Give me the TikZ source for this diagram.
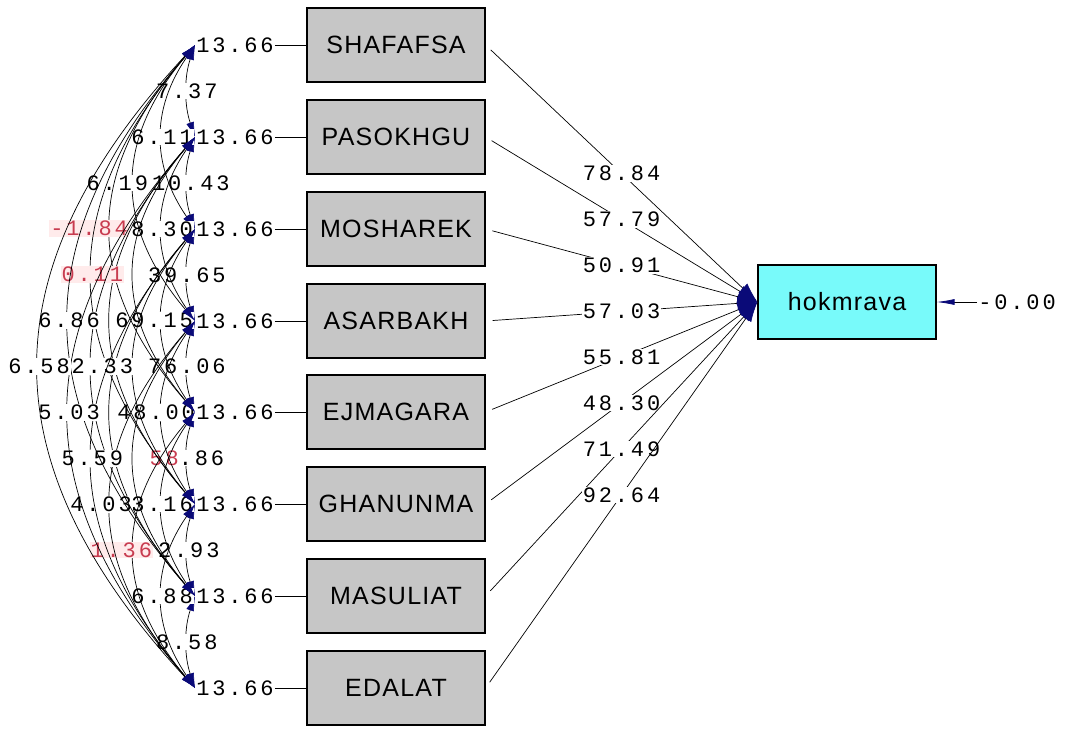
\documentclass[tikz,border=0pt]{standalone}
\usepackage{fontspec}
\setmainfont{Liberation Sans}
\newfontfamily\lisrelmono[LetterSpace=13]{Liberation Mono}
\newfontfamily\boxfont[LetterSpace=5]{Liberation Sans}
\usetikzlibrary{arrows.meta}
\definecolor{boxgray}{RGB}{198,198,198}
\definecolor{latcyan}{RGB}{120,250,250}
\definecolor{headnavy}{RGB}{10,10,120}
\definecolor{tred}{RGB}{200,60,80}
\begin{document}
\begin{tikzpicture}[x=1pt,y=-1pt,
  obs/.style={draw=black, line width=1.2pt, fill=boxgray, minimum width=178pt, minimum height=74pt, inner sep=0pt, font=\boxfont\fontsize{25}{25}\selectfont},
  lat/.style={obs, fill=latcyan},
  num/.style={fill=white, inner sep=1pt, font=\lisrelmono\fontsize{22}{22}\selectfont},
  numred/.style={num, fill=red!8, text=tred},
  cov/.style={line width=0.7pt, {Latex[length=15pt,width=8pt,color=headnavy]}-{Latex[length=15pt,width=8pt,color=headnavy]}},
  loading/.style={line width=0.7pt, -{Latex[length=20pt,width=13pt,color=headnavy]}, shorten <=7pt}]
\useasboundingbox (0,0) rectangle (1067,728);
\node (b1) [obs] at (396,45) {SHAFAFSA};
\node (b2) [obs] at (396,137) {PASOKHGU};
\node (b3) [obs] at (396,229) {MOSHAREK};
\node (b4) [obs] at (396,321) {ASARBAKH};
\node (b5) [obs] at (396,412) {EJMAGARA};
\node (b6) [obs] at (396,504) {GHANUNMA};
\node (b7) [obs] at (396,596) {MASULIAT};
\node (b8) [obs] at (396,688) {EDALAT};
\node (hok) [lat] at (847,302) {hokmrava};
\node (e1) [num] at (235,45) {13.66};
\node (e2) [num] at (235,137) {13.66};
\node (e3) [num] at (235,229) {13.66};
\node (e4) [num] at (235,321) {13.66};
\node (e5) [num] at (235,412) {13.66};
\node (e6) [num] at (235,504) {13.66};
\node (e7) [num] at (235,596) {13.66};
\node (e8) [num] at (235,688) {13.66};
\node (e9) [num] at (1017,302) {-0.00};
\draw [line width=0.8pt] (e1) -- (b1);
\draw [line width=0.8pt] (e2) -- (b2);
\draw [line width=0.8pt] (e3) -- (b3);
\draw [line width=0.8pt] (e4) -- (b4);
\draw [line width=0.8pt] (e5) -- (b5);
\draw [line width=0.8pt] (e6) -- (b6);
\draw [line width=0.8pt] (e7) -- (b7);
\draw [line width=0.8pt] (e8) -- (b8);
\draw [line width=0.8pt, -{Latex[length=18pt,width=6pt,color=headnavy]}] (e9) -- (hok);
\draw [loading] (b1.east) -- (hok.west) node [num, pos=0.5] {78.84};
\draw [loading] (b2.east) -- (hok.west) node [num, pos=0.5] {57.79};
\draw [loading] (b3.east) -- (hok.west) node [num, pos=0.5] {50.91};
\draw [loading] (b4.east) -- (hok.west) node [num, pos=0.5] {57.03};
\draw [loading] (b5.east) -- (hok.west) node [num, pos=0.5] {55.81};
\draw [loading] (b6.east) -- (hok.west) node [num, pos=0.5] {48.30};
\draw [loading] (b7.east) -- (hok.west) node [num, pos=0.5] {71.49};
\draw [loading] (b8.east) -- (hok.west) node [num, pos=0.5] {92.64};
\draw [cov] (e1.west) .. controls +(-11,32) and +(-11,-32) .. (e2.west) node [num, pos=0.5] {7.37};
\draw [cov] (e2.west) .. controls +(-11,32) and +(-11,-32) .. (e3.west) node [num, pos=0.5, xshift=4] {10.43};
\draw [cov] (e3.west) .. controls +(-11,32) and +(-11,-32) .. (e4.west) node [num, pos=0.5] {39.65};
\draw [cov] (e4.west) .. controls +(-11,32) and +(-11,-32) .. (e5.west) node [num, pos=0.5] {76.06};
\draw [cov] (e5.west) .. controls +(-11,32) and +(-11,-32) .. (e6.west) node [num, pos=0.5] {{\color{tred}58}.86};
\draw [cov] (e6.west) .. controls +(-11,32) and +(-11,-32) .. (e7.west) node [num, pos=0.5, xshift=2] {2.93};
\draw [cov] (e7.west) .. controls +(-11,32) and +(-11,-32) .. (e8.west) node [num, pos=0.5] {8.58};
\draw [cov] (e1.west) .. controls +(-44,64) and +(-44,-64) .. (e3.west) node [num, pos=0.5] {6.11};
\draw [cov] (e2.west) .. controls +(-44,64) and +(-44,-64) .. (e4.west) node [num, pos=0.5] {8.30};
\draw [cov] (e3.west) .. controls +(-44,64) and +(-44,-64) .. (e5.west) node [num, pos=0.5, xshift=-8] {69.15};
\draw [cov] (e4.west) .. controls +(-44,64) and +(-44,-64) .. (e6.west) node [num, pos=0.5, xshift=-6] {48.00};
\draw [cov] (e5.west) .. controls +(-44,64) and +(-44,-64) .. (e7.west) node [num, pos=0.5] {3.16};
\draw [cov] (e6.west) .. controls +(-44,64) and +(-44,-64) .. (e8.west) node [num, pos=0.5] {6.88};
\draw [cov] (e1.west) .. controls +(-81,96) and +(-81,-96) .. (e4.west) node [num, pos=0.5, xshift=-17] {6.19};
\draw [cov] (e2.west) .. controls +(-81,96) and +(-81,-96) .. (e5.west);
\draw [cov] (e3.west) .. controls +(-81,96) and +(-81,-96) .. (e6.west);
\draw [cov] (e4.west) .. controls +(-81,96) and +(-81,-96) .. (e7.west);
\draw [cov] (e5.west) .. controls +(-81,96) and +(-81,-96) .. (e8.west) node [numred, pos=0.5, xshift=-13] {1.36};
\draw [cov] (e1.west) .. controls +(-112,129) and +(-112,-129) .. (e5.west) node [numred, pos=0.5, xshift=-22] {-1.84};
\draw [cov] (e2.west) .. controls +(-112,129) and +(-112,-129) .. (e6.west);
\draw [cov] (e3.west) .. controls +(-112,129) and +(-112,-129) .. (e7.west);
\draw [cov] (e4.west) .. controls +(-112,129) and +(-112,-129) .. (e8.west) node [num, pos=0.5, xshift=-10] {4.03};
\draw [cov] (e1.west) .. controls +(-137,161) and +(-137,-161) .. (e6.west) node [numred, pos=0.5] {0.11};
\draw [cov] (e2.west) .. controls +(-137,161) and +(-137,-161) .. (e7.west) node [num, pos=0.5, xshift=10] {2.33};
\draw [cov] (e3.west) .. controls +(-137,161) and +(-137,-161) .. (e8.west) node [num, pos=0.5] {5.59};
\draw [cov] (e1.west) .. controls +(-168,193) and +(-168,-193) .. (e7.west) node [num, pos=0.5] {6.86};
\draw [cov] (e2.west) .. controls +(-168,193) and +(-168,-193) .. (e8.west) node [num, pos=0.5] {5.03};
\draw [cov] (e1.west) .. controls +(-208,225) and +(-208,-225) .. (e8.west) node [num, pos=0.5] {6.58};
\end{tikzpicture}
\end{document}
